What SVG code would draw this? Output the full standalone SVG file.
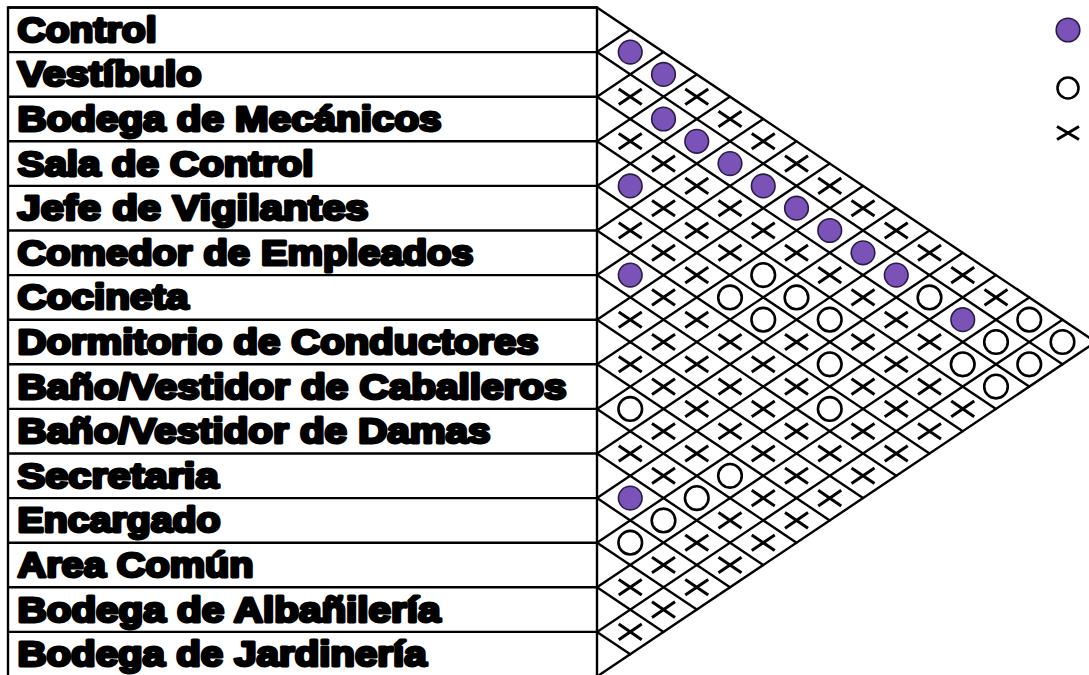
<svg xmlns="http://www.w3.org/2000/svg" xmlns:xlink="http://www.w3.org/1999/xlink" width="1089" height="675" viewBox="0 0 1089 675">
<style>
.bg{fill:#ffffff}
.box{fill:none;stroke:#000;stroke-width:2.4}
.grid{fill:none;stroke:#000;stroke-width:2.4;stroke-linecap:round}
.lbl{font-family:"Liberation Sans",Arial,sans-serif;font-weight:bold;font-size:35px;fill:#000;stroke:#000;stroke-width:3;stroke-linejoin:round}
.dot{fill:#7b52b8;stroke:#2a1d45;stroke-width:1.6}
.ring{fill:#fff;stroke:#000;stroke-width:2.6}
.cross{fill:none;stroke:#000;stroke-width:3;stroke-linecap:butt}
</style>
<defs>
<circle id="dot" class="dot" cx="0" cy="0" r="11.8"/>
<circle id="ring" class="ring" cx="0" cy="0" r="11.8"/>
<path id="cross" class="cross" d="M-11.5,-7.8L11.5,7.8M-11.5,7.8L11.5,-7.8"/>
</defs>
<rect class="bg" x="0" y="0" width="1089" height="675"/>

<g id="table-frame">
<rect class="box" x="8" y="7.5" width="589" height="669"/>
</g>

<g id="n0"><line class="box" x1="8" y1="7.5" x2="597" y2="7.5"/><text class="lbl" x="17.5" y="41.8" textLength="139" lengthAdjust="spacingAndGlyphs">Control</text></g>
<g id="n1"><line class="box" x1="8" y1="52.1" x2="597" y2="52.1"/><text class="lbl" x="17.5" y="86.4" textLength="184" lengthAdjust="spacingAndGlyphs">Vestíbulo</text></g>
<g id="n2"><line class="box" x1="8" y1="96.7" x2="597" y2="96.7"/><text class="lbl" x="17.5" y="131" textLength="424" lengthAdjust="spacingAndGlyphs">Bodega de Mecánicos</text></g>
<g id="n3"><line class="box" x1="8" y1="141.3" x2="597" y2="141.3"/><text class="lbl" x="17.5" y="175.6" textLength="296" lengthAdjust="spacingAndGlyphs">Sala de Control</text></g>
<g id="n4"><line class="box" x1="8" y1="185.9" x2="597" y2="185.9"/><text class="lbl" x="17.5" y="220.2" textLength="351" lengthAdjust="spacingAndGlyphs">Jefe de Vigilantes</text></g>
<g id="n5"><line class="box" x1="8" y1="230.5" x2="597" y2="230.5"/><text class="lbl" x="17.5" y="264.8" textLength="456" lengthAdjust="spacingAndGlyphs">Comedor de Empleados</text></g>
<g id="n6"><line class="box" x1="8" y1="275.1" x2="597" y2="275.1"/><text class="lbl" x="17.5" y="309.4" textLength="171" lengthAdjust="spacingAndGlyphs">Cocineta</text></g>
<g id="n7"><line class="box" x1="8" y1="319.7" x2="597" y2="319.7"/><text class="lbl" x="17.5" y="354" textLength="521" lengthAdjust="spacingAndGlyphs">Dormitorio de Conductores</text></g>
<g id="n8"><line class="box" x1="8" y1="364.3" x2="597" y2="364.3"/><text class="lbl" x="17.5" y="398.6" textLength="549" lengthAdjust="spacingAndGlyphs">Baño/Vestidor de Caballeros</text></g>
<g id="n9"><line class="box" x1="8" y1="408.9" x2="597" y2="408.9"/><text class="lbl" x="17.5" y="443.2" textLength="473" lengthAdjust="spacingAndGlyphs">Baño/Vestidor de Damas</text></g>
<g id="n10"><line class="box" x1="8" y1="453.5" x2="597" y2="453.5"/><text class="lbl" x="17.5" y="487.8" textLength="201" lengthAdjust="spacingAndGlyphs">Secretaria</text></g>
<g id="n11"><line class="box" x1="8" y1="498.1" x2="597" y2="498.1"/><text class="lbl" x="17.5" y="532.4" textLength="203" lengthAdjust="spacingAndGlyphs">Encargado</text></g>
<g id="n12"><line class="box" x1="8" y1="542.7" x2="597" y2="542.7"/><text class="lbl" x="17.5" y="577" textLength="236" lengthAdjust="spacingAndGlyphs">Area Común</text></g>
<g id="n13"><line class="box" x1="8" y1="587.3" x2="597" y2="587.3"/><text class="lbl" x="17.5" y="621.6" textLength="423" lengthAdjust="spacingAndGlyphs">Bodega de Albañilería</text></g>
<g id="n14"><line class="box" x1="8" y1="631.9" x2="597" y2="631.9"/><text class="lbl" x="17.5" y="666.2" textLength="409" lengthAdjust="spacingAndGlyphs">Bodega de Jardinería</text></g>

<g id="connectors">
<path class="grid" d="M597,7.5L1095.75,342M597,52.1L1062.5,364.3M597,96.7L1029.25,386.6M597,141.3L996,408.9M597,185.9L962.75,431.2M597,230.5L929.5,453.5M597,275.1L896.25,475.8M597,319.7L863,498.1M597,364.3L829.75,520.4M597,408.9L796.5,542.7M597,453.5L763.25,565M597,498.1L730,587.3M597,542.7L696.75,609.6M597,587.3L663.5,631.9M597,631.9L630.25,654.2"/>
<path class="grid" d="M597,52.1L630.25,29.8M597,96.7L663.5,52.1M597,141.3L696.75,74.4M597,185.9L730,96.7M597,230.5L763.25,119M597,275.1L796.5,141.3M597,319.7L829.75,163.6M597,364.3L863,185.9M597,408.9L896.25,208.2M597,453.5L929.5,230.5M597,498.1L962.75,252.8M597,542.7L996,275.1M597,587.3L1029.25,297.4M597,631.9L1062.5,319.7M597,676.5L1095.75,342"/>
</g>

<g id="dots">
<use href="#dot" x="630.25" y="52.1"/>
<use href="#dot" x="630.25" y="185.9"/>
<use href="#dot" x="630.25" y="275.1"/>
<use href="#dot" x="630.25" y="498.1"/>
<use href="#dot" x="663.5" y="74.4"/>
<use href="#dot" x="663.5" y="119"/>
<use href="#dot" x="696.75" y="141.3"/>
<use href="#dot" x="730" y="163.6"/>
<use href="#dot" x="763.25" y="185.9"/>
<use href="#dot" x="796.5" y="208.2"/>
<use href="#dot" x="829.75" y="230.5"/>
<use href="#dot" x="863" y="252.8"/>
<use href="#dot" x="896.25" y="275.1"/>
<use href="#dot" x="962.75" y="319.7"/>
</g>

<g id="rings">
<use href="#ring" x="630.25" y="408.9"/>
<use href="#ring" x="630.25" y="542.7"/>
<use href="#ring" x="663.5" y="520.4"/>
<use href="#ring" x="696.75" y="498.1"/>
<use href="#ring" x="730" y="297.4"/>
<use href="#ring" x="730" y="475.8"/>
<use href="#ring" x="763.25" y="275.1"/>
<use href="#ring" x="763.25" y="319.7"/>
<use href="#ring" x="796.5" y="297.4"/>
<use href="#ring" x="829.75" y="319.7"/>
<use href="#ring" x="829.75" y="364.3"/>
<use href="#ring" x="829.75" y="408.9"/>
<use href="#ring" x="929.5" y="297.4"/>
<use href="#ring" x="962.75" y="364.3"/>
<use href="#ring" x="996" y="342"/>
<use href="#ring" x="996" y="386.6"/>
<use href="#ring" x="1029.25" y="319.7"/>
<use href="#ring" x="1029.25" y="364.3"/>
<use href="#ring" x="1062.5" y="342"/>
</g>

<g id="crosses">
<use href="#cross" x="630.25" y="96.7"/>
<use href="#cross" x="630.25" y="141.3"/>
<use href="#cross" x="630.25" y="230.5"/>
<use href="#cross" x="630.25" y="319.7"/>
<use href="#cross" x="630.25" y="364.3"/>
<use href="#cross" x="630.25" y="453.5"/>
<use href="#cross" x="630.25" y="587.3"/>
<use href="#cross" x="630.25" y="631.9"/>

<use href="#cross" x="663.5" y="163.6"/>
<use href="#cross" x="663.5" y="208.2"/>
<use href="#cross" x="663.5" y="252.8"/>
<use href="#cross" x="663.5" y="297.4"/>
<use href="#cross" x="663.5" y="342"/>
<use href="#cross" x="663.5" y="386.6"/>
<use href="#cross" x="663.5" y="431.2"/>
<use href="#cross" x="663.5" y="475.8"/>
<use href="#cross" x="663.5" y="565"/>
<use href="#cross" x="663.5" y="609.6"/>

<use href="#cross" x="696.75" y="96.7"/>
<use href="#cross" x="696.75" y="185.9"/>
<use href="#cross" x="696.75" y="230.5"/>
<use href="#cross" x="696.75" y="275.1"/>
<use href="#cross" x="696.75" y="319.7"/>
<use href="#cross" x="696.75" y="364.3"/>
<use href="#cross" x="696.75" y="408.9"/>
<use href="#cross" x="696.75" y="453.5"/>
<use href="#cross" x="696.75" y="542.7"/>
<use href="#cross" x="696.75" y="587.3"/>

<use href="#cross" x="730" y="119"/>
<use href="#cross" x="730" y="208.2"/>
<use href="#cross" x="730" y="252.8"/>
<use href="#cross" x="730" y="342"/>
<use href="#cross" x="730" y="386.6"/>
<use href="#cross" x="730" y="431.2"/>
<use href="#cross" x="730" y="520.4"/>
<use href="#cross" x="730" y="565"/>

<use href="#cross" x="763.25" y="141.3"/>
<use href="#cross" x="763.25" y="230.5"/>
<use href="#cross" x="763.25" y="364.3"/>
<use href="#cross" x="763.25" y="408.9"/>
<use href="#cross" x="763.25" y="453.5"/>
<use href="#cross" x="763.25" y="498.1"/>
<use href="#cross" x="763.25" y="542.7"/>

<use href="#cross" x="796.5" y="163.6"/>
<use href="#cross" x="796.5" y="252.8"/>
<use href="#cross" x="796.5" y="342"/>
<use href="#cross" x="796.5" y="386.6"/>
<use href="#cross" x="796.5" y="431.2"/>
<use href="#cross" x="796.5" y="475.8"/>
<use href="#cross" x="796.5" y="520.4"/>

<use href="#cross" x="829.75" y="185.9"/>
<use href="#cross" x="829.75" y="275.1"/>
<use href="#cross" x="829.75" y="453.5"/>
<use href="#cross" x="829.75" y="498.1"/>

<use href="#cross" x="863" y="208.2"/>
<use href="#cross" x="863" y="297.4"/>
<use href="#cross" x="863" y="342"/>
<use href="#cross" x="863" y="386.6"/>
<use href="#cross" x="863" y="431.2"/>
<use href="#cross" x="863" y="475.8"/>

<use href="#cross" x="896.25" y="230.5"/>
<use href="#cross" x="896.25" y="319.7"/>
<use href="#cross" x="896.25" y="364.3"/>
<use href="#cross" x="896.25" y="408.9"/>
<use href="#cross" x="896.25" y="453.5"/>

<use href="#cross" x="929.5" y="252.8"/>
<use href="#cross" x="929.5" y="342"/>
<use href="#cross" x="929.5" y="386.6"/>
<use href="#cross" x="929.5" y="431.2"/>

<use href="#cross" x="962.75" y="275.1"/>
<use href="#cross" x="962.75" y="408.9"/>

<use href="#cross" x="996" y="297.4"/>
</g>

<g id="legend">
<use href="#dot" x="1068" y="30"/>
<circle cx="1068" cy="88" r="10.5" fill="#fff" stroke="#000" stroke-width="2.6"/>
<path class="cross" d="M1057,126.5L1079,139.5M1057,139.5L1079,126.5"/>
</g>
</svg>
